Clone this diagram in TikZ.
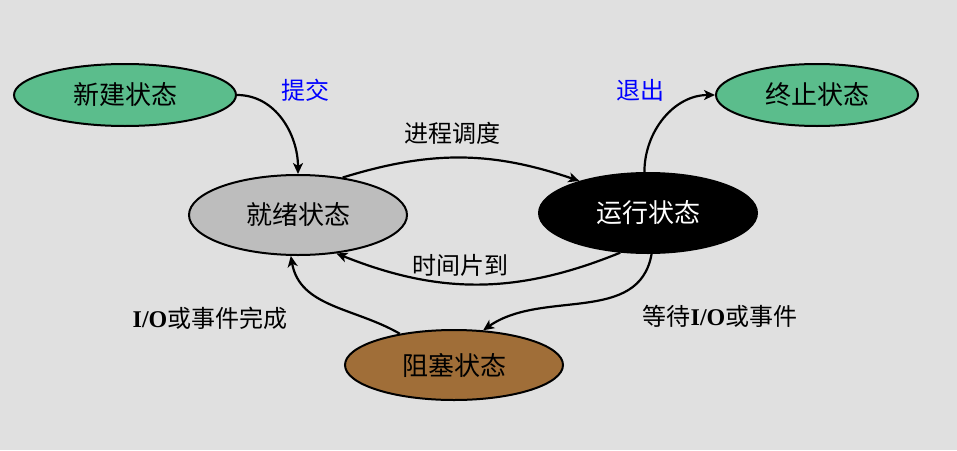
\documentclass[tikz,border=0pt]{standalone}
\usepackage{fontspec}
\newfontfamily\cjk{Noto Sans CJK SC}
\newfontfamily\io{Liberation Serif}
\usetikzlibrary{shapes.geometric,arrows.meta}
\definecolor{bgcol}{HTML}{E0E0E0}
\definecolor{greencol}{HTML}{5BBD8C}
\definecolor{graycol}{HTML}{BDBDBD}
\definecolor{browncol}{HTML}{A06E38}
\newcommand{\IO}{{\io\bfseries I/O}}
\tikzset{
  state/.style={ellipse, draw, line width=2pt, inner sep=0pt,
                font=\cjk\fontsize{26}{30}\selectfont},
  trans/.style={-{Stealth[length=11pt,width=10pt,inset=3pt]}, line width=2.2pt},
  lbl/.style={font=\cjk\fontsize{24}{28}\selectfont}
}
\begin{document}
\begin{tikzpicture}[x=1pt,y=-1pt]
    \fill[bgcol] (0,0) rectangle (957,450);
    \useasboundingbox (0,0) rectangle (957,450);
    % states
    \node[state, fill=greencol, minimum width=222, minimum height=62] (new) at (125,95) {新建状态};
    \node[state, fill=greencol, minimum width=202, minimum height=62] (exit) at (817,95) {终止状态};
    \node[state, fill=graycol, minimum width=218, minimum height=80] (ready) at (298,215) {就绪状态};
    \node[state, fill=black, text=white, minimum width=218, minimum height=80] (run) at (648,213) {运行状态};
    \node[state, fill=browncol, minimum width=218, minimum height=70] (block) at (454,365) {阻塞状态};
    % transitions
    \draw[trans] (new.east) to[out=0, in=90] (ready.north);
    \draw[trans] (ready.40) to[bend left=18] (run.155);
    \draw[trans] (run.-125) to[bend left=22] (ready.-45);
    \draw[trans] (run.-85) to[out=-100, in=35] (block.50);
    \draw[trans] (block.150) to[out=150, in=-80] (ready.-100);
    \draw[trans] (run.95) to[out=90, in=180] (exit.west);
    % labels
    \node[lbl, text=blue] (submit) at (305,90) {提交};
    \node[lbl, text=blue] (quit) at (640,90) {退出};
    \node[lbl] (sched) at (452,133) {进程调度};
    \node[lbl] (slice) at (460,265) {时间片到};
    \node[lbl] (done) at (210,318) {\IO 或事件完成};
    \node[lbl] (wait) at (720,316) {等待\IO 或事件};
\end{tikzpicture}
\end{document}
